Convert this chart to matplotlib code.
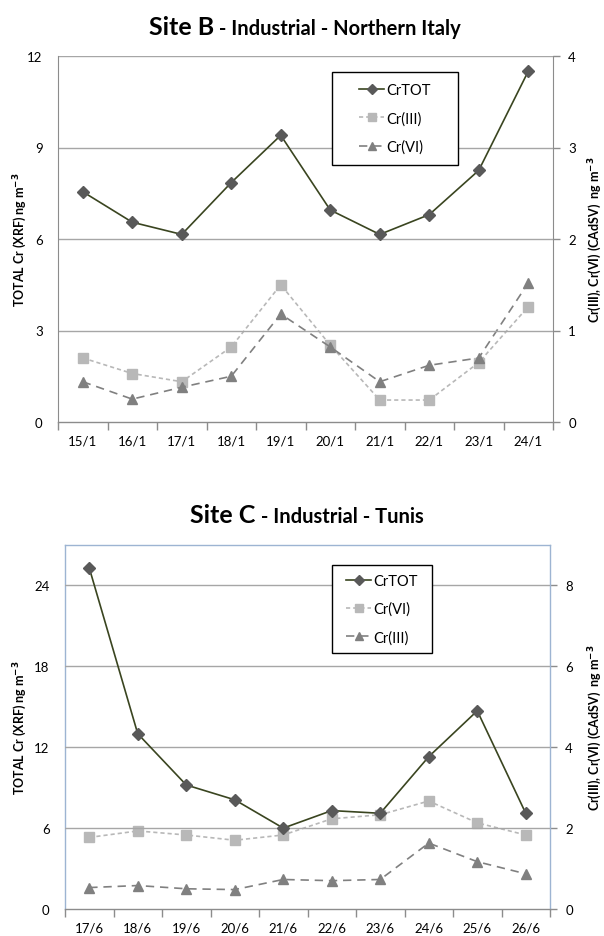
import matplotlib
matplotlib.use("Agg")
import matplotlib.pyplot as plt
from matplotlib.ticker import FixedLocator, NullFormatter
from matplotlib.patches import Rectangle

plt.rcParams['font.family'] = ['Lato', 'DejaVu Sans']

# ---------------- data ----------------
dates_b = ["15/1", "16/1", "17/1", "18/1", "19/1", "20/1", "21/1", "22/1", "23/1", "24/1"]
crtot_b = [7.55, 6.55, 6.15, 7.85, 9.4, 6.95, 6.15, 6.8, 8.25, 11.5]
cr3_b = [0.70, 0.53, 0.44, 0.82, 1.50, 0.84, 0.24, 0.24, 0.65, 1.26]
cr6_b = [0.44, 0.25, 0.38, 0.50, 1.18, 0.82, 0.44, 0.62, 0.70, 1.52]

dates_c = ["17/6", "18/6", "19/6", "20/6", "21/6", "22/6", "23/6", "24/6", "25/6", "26/6"]
crtot_c = [25.3, 13.0, 9.2, 8.1, 6.0, 7.3, 7.1, 11.3, 14.7, 7.1]
cr6_c = [1.77, 1.93, 1.83, 1.70, 1.83, 2.23, 2.33, 2.67, 2.13, 1.83]
cr3_c = [0.53, 0.58, 0.50, 0.48, 0.73, 0.70, 0.73, 1.63, 1.17, 0.87]

W, H = 604, 937
fig = plt.figure(figsize=(W / 100, H / 100), dpi=100)

TOT_LINE = "#3A4520"
TOT_MARK = "#595959"
SQ_COL = "#B8B8B8"
TRI_COL = "#808080"
GRID = "#A6A6A6"
AXC = "#8C8C8C"
BORDER = "#9DB4D2"
TICKSIZE = 9.5


def px_box(l, t, r, b):
    return [l / W, 1 - b / H, (r - l) / W, (b - t) / H]


def make_panel(box, dates, tot, sq, tri, sq_label, tri_label, ymax_l, ystep_l,
               ymax_r, ystep_r, top_l, border):
    ax = fig.add_axes(box)
    ax2 = ax.twinx()
    n = len(dates)
    x = list(range(n))
    ax.set_xlim(-0.5, n - 0.5)
    ax.set_ylim(0, top_l)
    ax2.set_ylim(0, top_l * ymax_r / ymax_l)
    lt = [i * ystep_l for i in range(int(ymax_l / ystep_l) + 1)]
    rt = [i * ystep_r for i in range(int(ymax_r / ystep_r) + 1)]
    ax.set_yticks(lt)
    ax.set_yticklabels([str(int(v)) for v in lt])
    ax2.set_yticks(rt)
    ax2.set_yticklabels([str(int(v)) for v in rt])
    for v in lt[1:]:
        ax.axhline(v, color=GRID, lw=1.0, zorder=0.5)
    ax.set_xticks(x)
    ax.set_xticklabels(dates)
    ax.xaxis.set_minor_locator(FixedLocator([i - 0.5 for i in range(n + 1)]))
    ax.xaxis.set_minor_formatter(NullFormatter())
    ax.tick_params(axis='x', which='major', length=0, pad=9, labelsize=TICKSIZE, colors='black')
    ax.tick_params(axis='x', which='minor', length=6, width=1, color=AXC, direction='out')
    ax.tick_params(axis='y', length=0, pad=11, labelsize=TICKSIZE)
    ax2.tick_params(axis='y', length=5, width=1, color=AXC, direction='out', pad=6,
                    labelsize=TICKSIZE)
    for s in ['top', 'right', 'left', 'bottom']:
        ax.spines[s].set_visible(False)
        ax2.spines[s].set_visible(False)
    ax.spines['bottom'].set_visible(True)
    ax.spines['bottom'].set_color(AXC)
    ax.spines['bottom'].set_linewidth(1.0)
    if border:
        for s in ['left', 'right', 'top']:
            ax2.spines[s].set_visible(True)
            ax2.spines[s].set_color(BORDER)
            ax2.spines[s].set_linewidth(1.0)
    else:
        ax.spines['left'].set_visible(True)
        ax.spines['left'].set_color(AXC)
        ax2.spines['right'].set_visible(True)
        ax2.spines['right'].set_color(AXC)

    l1, = ax.plot(x, tot, color=TOT_LINE, lw=1.2, marker='D', ms=6.5,
                  mfc=TOT_MARK, mec=TOT_MARK, zorder=5, label="CrTOT")
    l2, = ax2.plot(x, sq, color=SQ_COL, lw=1.2, ls=(0, (2.5, 1.8)), marker='s', ms=7,
                   mfc=SQ_COL, mec=SQ_COL, zorder=3, label=sq_label)
    l3, = ax2.plot(x, tri, color=TRI_COL, lw=1.2, ls=(0, (5, 3.5)), marker='^', ms=7.5,
                   mfc=TRI_COL, mec=TRI_COL, zorder=4, label=tri_label)
    ax.set_zorder(ax2.get_zorder() + 1)
    ax.patch.set_visible(False)
    return ax, ax2, (l1, l2, l3)


def add_legend(ax, handles, labels, x0, x1, y0, y1):
    rect = Rectangle((x0, y0), x1 - x0, y1 - y0, transform=ax.transAxes,
                     facecolor='white', edgecolor='black', lw=1.0, zorder=10)
    ax.add_patch(rect)
    leg = ax.legend(handles, labels, loc='center',
                    bbox_to_anchor=((x0 + x1) / 2, (y0 + y1) / 2),
                    frameon=False, fontsize=10.5, handlelength=1.7, handletextpad=0.15,
                    labelspacing=0.95, borderpad=0.0, markerscale=0.8)
    leg.set_zorder(11)
    return leg


def two_part_title(xc, yc, big, small, bigsize, smallsize):
    t1 = fig.text(0, yc, big, fontsize=bigsize, fontweight='bold', va='baseline', ha='left')
    t2 = fig.text(0, yc, small, fontsize=smallsize, fontweight='bold', va='baseline', ha='left')
    fig.canvas.draw()
    r = fig.canvas.get_renderer()
    w1 = t1.get_window_extent(r).width / W
    w2 = t2.get_window_extent(r).width / W
    x0 = xc - (w1 + w2) / 2
    t1.set_x(x0)
    t2.set_x(x0 + w1)


# ---------------- Site B ----------------
axB, axB2, hB = make_panel(px_box(58, 57, 553, 423), dates_b, crtot_b, cr3_b, cr6_b,
                           "Cr(III)", "Cr(VI)", 12, 3, 4, 1, 12, False)
add_legend(axB, hB, ["CrTOT", "Cr(III)", "Cr(VI)"], 0.553, 0.808, 0.702, 0.956)
two_part_title(305 / W, 1 - 35 / H, "Site B", " - Industrial - Northern Italy", 18, 14.5)

# ---------------- Site C ----------------
axC, axC2, hC = make_panel(px_box(65, 546, 550, 910), dates_c, crtot_c, cr6_c, cr3_c,
                           "Cr(VI)", "Cr(III)", 24, 6, 8, 2, 27, True)
add_legend(axC, hC, ["CrTOT", "Cr(VI)", "Cr(III)"], 0.55, 0.757, 0.703, 0.945)
two_part_title(307 / W, 1 - 523 / H, "Site C", " - Industrial - Tunis", 18, 14.5)

# axis titles
ylab = "TOTAL Cr (XRF) ng m$^{\\mathbf{-3}}$"
rlab = "Cr(III), Cr(VI) (CAdSV)  ng m$^{\\mathbf{-3}}$"
for yc in (240, 728):
    fig.text(20 / W, 1 - yc / H, ylab, rotation=90, fontsize=9, fontweight='bold',
             ha='center', va='center')
    fig.text(595 / W, 1 - yc / H, rlab, rotation=90, fontsize=9, fontweight='bold',
             ha='center', va='center')

fig.savefig("out.png", dpi=100)
